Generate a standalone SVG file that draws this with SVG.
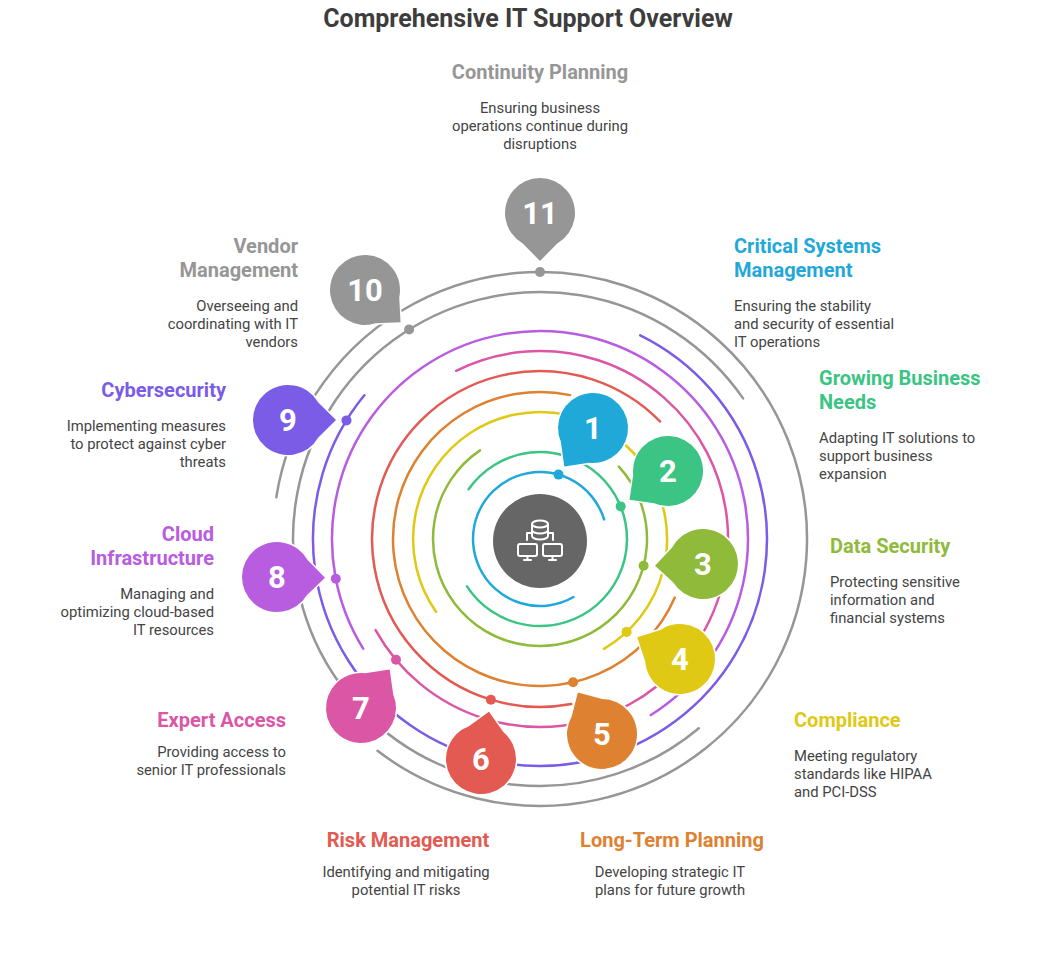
<svg xmlns="http://www.w3.org/2000/svg" width="1056" height="960" viewBox="0 0 1056 960">
<style>
.ring{fill:none;stroke-width:2.5;stroke-linecap:round}
.t{font-family:Roboto,"Liberation Sans",sans-serif;font-weight:bold;font-size:20px}
.d{font-family:Roboto,"Liberation Sans",sans-serif;font-size:14.8px;fill:#444}
.n{font-family:Roboto,"Liberation Sans",sans-serif;font-weight:bold;font-size:31px;fill:#fff;text-anchor:middle}
.b{stroke:#fff;stroke-width:3;paint-order:stroke}
.ic{fill:none;stroke:#fff;stroke-width:2;stroke-linecap:round;stroke-linejoin:round}
</style>
<defs>
<path id="bub" d="M30.3,-17.5 L48,0 L30.3,17.5 A35,35 0 1 1 30.3,-17.5 Z"/>
</defs>
<rect width="1056" height="960" fill="#fff"/>
<text x="528" y="27" text-anchor="middle" font-family="Roboto,'Liberation Sans',sans-serif" font-weight="bold" font-size="25" fill="#3d3d3d">Comprehensive IT Support Overview</text>
<g id="connectors">
<path class="ring" stroke="#1fa8d8" d="M573.5,597 A67,67 0 1 1 604.1,519.4"/>
<path class="ring" stroke="#3cc484" d="M468.6,489.3 A87,87 0 1 1 467,586.4"/>
<path class="ring" stroke="#8fba3a" d="M618.9,466.7 A107,107 0 1 1 480,450.4"/>
<path class="ring" stroke="#dfc914" d="M436,611.8 A127,127 0 1 1 603.9,648.8"/>
<path class="ring" stroke="#de8130" d="M674.8,597.6 A147,147 0 1 1 570.1,395.1"/>
<path class="ring" stroke="#e35a52" d="M571.2,704.1 A168,168 0 1 1 660,421.4"/>
<path class="ring" stroke="#dc56a6" d="M456.1,370.8 A188,188 0 1 1 375.6,630.1"/>
<path class="ring" stroke="#b85ce0" d="M363.2,648.6 A208,208 0 1 1 650.8,715"/>
<path class="ring" stroke="#7b5ce6" d="M640.2,335.3 A227,227 0 1 1 364.3,395.2"/>
<path class="ring" stroke="#969696" d="M698.8,728.2 A247,247 0 1 1 743.1,398.4"/>
<path class="ring" stroke="#969696" d="M276.3,497.2 A267,267 0 1 1 377.5,750.8"/>
<circle cx="558.5" cy="474.6" r="5" fill="#1fa8d8"/>
<circle cx="620.7" cy="506.4" r="5" fill="#3cc484"/>
<circle cx="643.6" cy="565.8" r="5" fill="#8fba3a"/>
<circle cx="626.6" cy="631.9" r="5" fill="#dfc914"/>
<circle cx="573.1" cy="682.2" r="5" fill="#de8130"/>
<circle cx="490.9" cy="699.7" r="5" fill="#e35a52"/>
<circle cx="396" cy="659.8" r="5" fill="#dc56a6"/>
<circle cx="335.8" cy="578.7" r="5" fill="#b85ce0"/>
<circle cx="346.5" cy="420.4" r="5" fill="#7b5ce6"/>
<circle cx="409.1" cy="329.5" r="5" fill="#969696"/>
<circle cx="540" cy="272" r="5" fill="#969696"/>
</g>
<g id="hub">
<circle cx="540" cy="541" r="47" fill="#666"/>
<g class="ic">
<ellipse cx="540" cy="524" rx="8" ry="3.5"/>
<path d="M532,524 V536 A8,3.5 0 0 0 548,536 V524 M532,530 A8,3.5 0 0 0 548,530"/>
<path d="M527,540 V533 H531 M553,540 V533 H549"/>
<rect x="518" y="544" width="19" height="12" rx="2"/>
<rect x="543" y="544" width="19" height="12" rx="2"/>
<path d="M524,560 H531 M549,560 H556 M527.5,556 V560 M552.5,556 V560"/>
</g>
</g>
<g id="n1"><use href="#bub" class="b" fill="#1fa8d8" transform="translate(593,428) rotate(126.7)"/><text class="n" x="593" y="439">1</text>
<text class="t" fill="#1fa8d8" x="734" y="253">Critical Systems</text><text class="t" fill="#1fa8d8" x="734" y="277">Management</text>
<text class="d" x="734" y="311">Ensuring the stability</text><text class="d" x="734" y="329">and security of essential</text><text class="d" x="734" y="347">IT operations</text></g>
<g id="n2"><use href="#bub" class="b" fill="#3cc484" transform="translate(668,471) rotate(143.3)"/><text class="n" x="668" y="482">2</text>
<text class="t" fill="#3cc484" x="819" y="385">Growing Business</text><text class="t" fill="#3cc484" x="819" y="409">Needs</text>
<text class="d" x="819" y="443">Adapting IT solutions to</text><text class="d" x="819" y="461">support business</text><text class="d" x="819" y="479">expansion</text></g>
<g id="n3"><use href="#bub" class="b" fill="#8fba3a" transform="translate(703,564) rotate(178)"/><text class="n" x="703" y="575">3</text>
<text class="t" fill="#8fba3a" x="830" y="553">Data Security</text>
<text class="d" x="830" y="587">Protecting sensitive</text><text class="d" x="830" y="605">information and</text><text class="d" x="830" y="623">financial systems</text></g>
<g id="n4"><use href="#bub" class="b" fill="#dfc914" transform="translate(680,659) rotate(207)"/><text class="n" x="680" y="670">4</text>
<text class="t" fill="#dfc914" x="794" y="727">Compliance</text>
<text class="d" x="794" y="761">Meeting regulatory</text><text class="d" x="794" y="779">standards like HIPAA</text><text class="d" x="794" y="797">and PCI-DSS</text></g>
<g id="n5"><use href="#bub" class="b" fill="#de8130" transform="translate(602,734) rotate(239.9)"/><text class="n" x="602" y="745">5</text>
<text class="t" fill="#de8130" x="672" y="847" text-anchor="middle">Long-Term Planning</text>
<text class="d" x="670" y="877" text-anchor="middle">Developing strategic IT</text><text class="d" x="670" y="895" text-anchor="middle">plans for future growth</text></g>
<g id="n6"><use href="#bub" class="b" fill="#e35a52" transform="translate(481,759) rotate(279.6)"/><text class="n" x="481" y="770">6</text>
<text class="t" fill="#e35a52" x="408" y="847" text-anchor="middle">Risk Management</text>
<text class="d" x="406" y="877" text-anchor="middle">Identifying and mitigating</text><text class="d" x="406" y="895" text-anchor="middle">potential IT risks</text></g>
<g id="n7"><use href="#bub" class="b" fill="#dc56a6" transform="translate(361,708) rotate(306.7)"/><text class="n" x="361" y="719">7</text>
<text class="t" fill="#dc56a6" x="286" y="727" text-anchor="end">Expert Access</text>
<text class="d" x="286" y="757" text-anchor="end">Providing access to</text><text class="d" x="286" y="775" text-anchor="end">senior IT professionals</text></g>
<g id="n8"><use href="#bub" class="b" fill="#b85ce0" transform="translate(277,577) rotate(1)"/><text class="n" x="277" y="588">8</text>
<text class="t" fill="#b85ce0" x="214" y="541" text-anchor="end">Cloud</text><text class="t" fill="#b85ce0" x="214" y="565" text-anchor="end">Infrastructure</text>
<text class="d" x="214" y="599" text-anchor="end">Managing and</text><text class="d" x="214" y="617" text-anchor="end">optimizing cloud-based</text><text class="d" x="214" y="635" text-anchor="end">IT resources</text></g>
<g id="n9"><use href="#bub" class="b" fill="#7b5ce6" transform="translate(288,420) rotate(0)"/><text class="n" x="288" y="431">9</text>
<text class="t" fill="#7b5ce6" x="226" y="397" text-anchor="end">Cybersecurity</text>
<text class="d" x="226" y="431" text-anchor="end">Implementing measures</text><text class="d" x="226" y="449" text-anchor="end">to protect against cyber</text><text class="d" x="226" y="467" text-anchor="end">threats</text></g>
<g id="n10"><use href="#bub" class="b" fill="#969696" transform="translate(365,290) rotate(42.2)"/><text class="n" x="365" y="301">10</text>
<text class="t" fill="#969696" x="298" y="253" text-anchor="end">Vendor</text><text class="t" fill="#969696" x="298" y="277" text-anchor="end">Management</text>
<text class="d" x="298" y="311" text-anchor="end">Overseeing and</text><text class="d" x="298" y="329" text-anchor="end">coordinating with IT</text><text class="d" x="298" y="347" text-anchor="end">vendors</text></g>
<g id="n11"><use href="#bub" class="b" fill="#969696" transform="translate(540,213) rotate(90)"/><text class="n" x="540" y="224">11</text>
<text class="t" fill="#969696" x="540" y="79" text-anchor="middle">Continuity Planning</text>
<text class="d" x="540" y="113" text-anchor="middle">Ensuring business</text><text class="d" x="540" y="131" text-anchor="middle">operations continue during</text><text class="d" x="540" y="149" text-anchor="middle">disruptions</text></g>
</svg>
